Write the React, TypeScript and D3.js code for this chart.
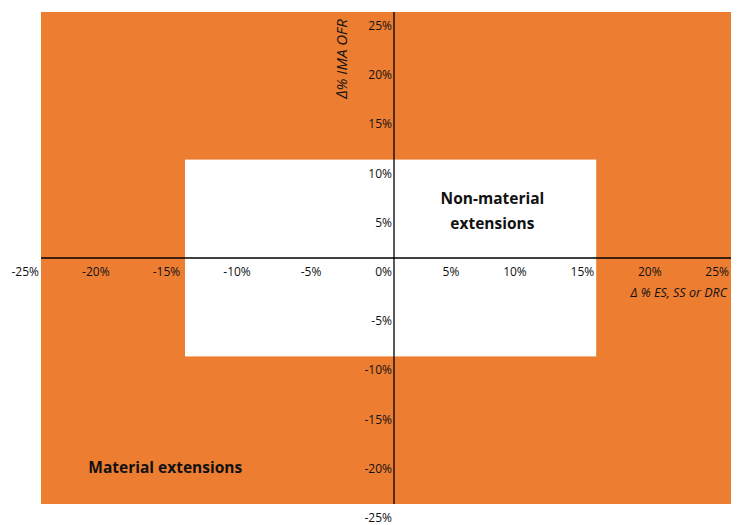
import React from "react";
import * as d3 from "d3";

const xTicks = [-25, -20, -15, -10, -5, 5, 10, 15, 20, 25];
const yTicks = [25, 20, 15, 10, 5, 0, -5, -10, -15, -20, -25];
const outerZone = { x0: -25, x1: 25, y0: -25, y1: 25 };
const innerZone = { x0: -14.8, x1: 15, y0: -10, y1: 10 };
const zoneLabels = [
  { lines: ["Non-material", "extensions"], x: 7.3, y: 5.5 },
  { lines: ["Material extensions"], x: -16.2, y: -21.8 },
];
const xTitle = "Δ % ES, SS or DRC";
const yTitle = "Δ% IMA OFR";

const W = 752;
const H = 525;
const ORANGE = "#ED7D31";
const FONT = "'Open Sans', 'Noto Sans', sans-serif";

export default function App() {
  const x = d3.scaleLinear().domain([-25, 0, 25]).range([41, 394, 731]);
  const y = d3.scaleLinear().domain([-25, 0, 25]).range([504, 258, 12]);
  const fmt = (v: number) => `${v}%`;

  return (
    <svg
      width={W}
      height={H}
      style={{ position: "absolute", left: 0, top: 0, background: "#fff" }}
      fontFamily={FONT}
    >
      <rect
        x={x(outerZone.x0)}
        y={y(outerZone.y1)}
        width={x(outerZone.x1) - x(outerZone.x0)}
        height={y(outerZone.y0) - y(outerZone.y1)}
        fill={ORANGE}
      />
      <rect
        x={x(innerZone.x0)}
        y={y(innerZone.y1)}
        width={x(innerZone.x1) - x(innerZone.x0)}
        height={y(innerZone.y0) - y(innerZone.y1)}
        fill="#fff"
      />
      {/* axes */}
      <line x1={x(-25)} x2={x(25)} y1={y(0)} y2={y(0)} stroke="#000" strokeWidth={1.3} />
      <line x1={x(0)} x2={x(0)} y1={y(25)} y2={y(-25)} stroke="#000" strokeWidth={1.3} />
      {/* x tick labels */}
      {xTicks.map((t) => (
        <text
          key={"x" + t}
          x={x(t) - 2}
          y={y(0) + 18}
          textAnchor="end"
          fontSize={12}
          fill="#111"
        >
          {fmt(t)}
        </text>
      ))}
      {/* y tick labels */}
      {yTicks.map((t) => (
        <text
          key={"y" + t}
          x={x(0) - 2}
          y={y(t) + 18}
          textAnchor="end"
          fontSize={12}
          fill="#111"
        >
          {fmt(t)}
        </text>
      ))}
      {/* axis titles */}
      <text
        x={727}
        y={297}
        textAnchor="end"
        fontSize={12.5}
        fontStyle="italic"
        fill="#111"
      >
        {xTitle}
      </text>
      <text
        transform={`translate(347, 59) rotate(-90)`}
        textAnchor="middle"
        fontSize={15}
        fontStyle="italic"
        fill="#111"
      >
        {yTitle}
      </text>
      {/* zone labels */}
      {zoneLabels.map((z, i) => (
        <text
          key={"z" + i}
          x={x(z.x)}
          y={y(z.y)}
          textAnchor="middle"
          fontSize={15.5}
          fontWeight="bold"
          fill="#111"
        >
          {z.lines.map((l, j) => (
            <tspan key={j} x={x(z.x)} dy={j === 0 ? 0 : 25}>
              {l}
            </tspan>
          ))}
        </text>
      ))}
    </svg>
  );
}
